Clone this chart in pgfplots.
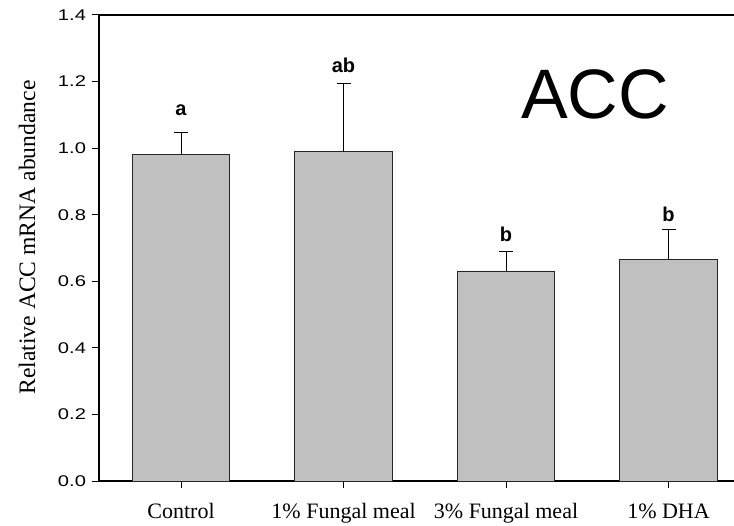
\documentclass[border=0pt]{standalone}
\usepackage{fontspec}
\setmainfont{Liberation Serif}
\setsansfont{Liberation Sans}
\newfontfamily\tickfont[FakeStretch=1.3]{Liberation Sans}
\usepackage{pgfplots}
\pgfplotsset{compat=1.18}
\definecolor{barfill}{RGB}{192,192,192}
\pgfplotstableread{
x y e
0 0.981 0.067
1 0.989 0.204
2 0.631 0.058
3 0.666 0.091
}\acctable
\begin{document}
\begin{tikzpicture}
\begin{axis}[
  name=ax,
  scale only axis,
  width=635bp, height=466bp,
  xmin=-0.505, xmax=3.403,
  ymin=0, ymax=1.4,
  axis x line=box, axis y line=left,
  axis line style={-, black, line width=1.3bp},
  xtick pos=left,
  tick align=outside,
  major tick length=6.5bp,
  tick style={black, line width=1bp},
  xtick={0,1,2,3},
  xticklabels={Control,1\% Fungal meal,3\% Fungal meal,1\% DHA},
  ytick={0,0.2,0.4,0.6,0.8,1.0,1.2,1.4},
  yticklabel style={font=\fontsize{15.5bp}{18bp}\selectfont\tickfont, xshift=-3bp},
  /pgf/number format/fixed,
  /pgf/number format/fixed zerofill,
  /pgf/number format/precision=1,
  /pgf/number format/assume math mode=true,
  xticklabel style={font=\fontsize{22bp}{24bp}\selectfont, anchor=base, yshift=-31bp},
  ylabel={Relative ACC mRNA abundance},
  ylabel style={font=\fontsize{23.6bp}{26bp}\selectfont, at={(axis description cs:-0.1135,0.5225)}, anchor=center},
]
\addplot[ybar, bar width=0.6, fill=barfill, draw=black!85, line width=0.8bp,
  error bars/.cd, y dir=plus, y explicit,
  error mark options={rotate=90, mark size=7bp, line width=1bp, black},
  error bar style={line width=1bp, black}]
  table[x=x, y=y, y error=e]{\acctable};
\node[font=\fontsize{20bp}{20bp}\selectfont\sffamily\bfseries, anchor=base] at (axis cs:0,1.098) {a};
\node[font=\fontsize{20bp}{20bp}\selectfont\sffamily\bfseries, anchor=base] at (axis cs:1,1.228) {ab};
\node[font=\fontsize{20bp}{20bp}\selectfont\sffamily\bfseries, anchor=base] at (axis cs:2,0.719) {b};
\node[font=\fontsize{20bp}{20bp}\selectfont\sffamily\bfseries, anchor=base] at (axis cs:3,0.779) {b};
\node[font=\fontsize{70bp}{70bp}\selectfont\sffamily, anchor=base] at (axis cs:2.548,1.089) {ACC};
\end{axis}
\pgfresetboundingbox
\path[use as bounding box] ([xshift=-99bp,yshift=-45bp]ax.south west) rectangle ([yshift=15bp]ax.north east);
\end{tikzpicture}
\end{document}
